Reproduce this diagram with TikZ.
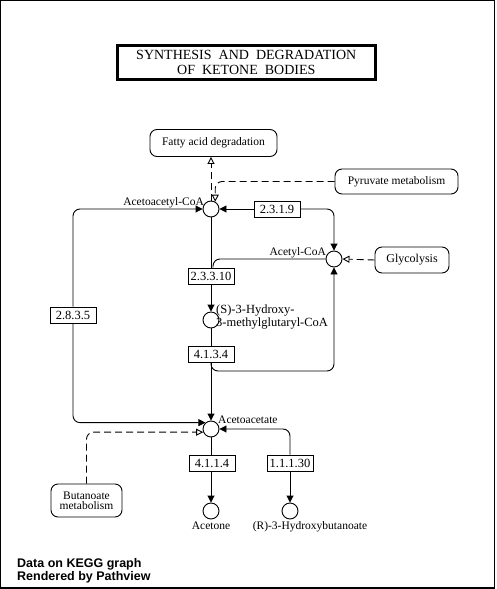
\documentclass[tikz,border=0pt]{standalone}
\usepackage{fontspec}
\setmainfont{Liberation Serif}
\newfontfamily\keggsans{Liberation Sans}
\usetikzlibrary{arrows.meta}
\begin{document}
\begin{tikzpicture}[x=1pt,y=-1pt,
  every node/.style={font=\fontsize{11.5}{10}\selectfont, inner sep=0pt},
  cpd/.style={circle, draw, minimum size=16pt, line width=0.9pt},
  enz/.style={rectangle, draw, minimum width=46pt, minimum height=16pt, line width=0.9pt,
              font=\fontsize{12.5}{12}\selectfont},
  mapbox/.style={rectangle, draw, rounded corners=7pt, line width=0.9pt, align=center},
  lbl/.style={align=left},
  conn/.style={line width=0.9pt, rounded corners=7pt},
  fwd/.style={conn, -{Triangle[length=7pt,width=7pt]}},
  rel/.style={line width=0.9pt, dash pattern=on 7pt off 4pt, rounded corners=7pt, -{Triangle[open,length=7pt,width=7pt]}}
]
\useasboundingbox (0,0) rectangle (496,589);
\draw[line width=1.3pt] (0.65,0.65) rectangle (494.6,587.9);

% title
\node[draw, line width=2.7pt, minimum width=258pt, minimum height=34pt, align=center,
      font=\fontsize{14}{14.5}\selectfont] (title) at (246.3,62.3)
  {SYNTHESIS\ \ AND\ \ DEGRADATION\\OF\ \ KETONE\ \ BODIES};

% map nodes
\node[mapbox, minimum width=127pt, minimum height=27pt] (fad) at (213.5,143) {Fatty acid degradation};
\node[mapbox, minimum width=123pt, minimum height=25pt] (pyr) at (396.5,181.5) {Pyruvate metabolism};
\node[mapbox, minimum width=74pt, minimum height=26pt, font=\fontsize{12}{10}\selectfont] (gly) at (412,260) {Glycolysis};
\node[mapbox, minimum width=71pt, minimum height=33pt] (but) at (86.5,500.5) {Butanoate\\metabolism};

% compounds
\node[cpd] (aacoa) at (211,209) {};
\node[cpd] (acoa) at (334,259) {};
\node[cpd] (hmg) at (211,320) {};
\node[cpd] (aa) at (211,429) {};
\node[cpd] (acetone) at (211,511) {};
\node[cpd] (r3hb) at (290,511) {};

% compound labels
\node[anchor=base east] (laacoa) at (204,205) {Acetoacetyl-CoA};
\node[anchor=base east] (lacoa) at (326,255) {Acetyl-CoA};
\node[anchor=base west, lbl, font=\fontsize{12.5}{9}\selectfont] (lhmg) at (216,326) {(S)-3-Hydroxy-\\3-methylglutaryl-CoA};
\node[anchor=base west] (laa) at (218,423) {Acetoacetate};
\node[anchor=base] (lacetone) at (211,529) {Acetone};
\node[anchor=base] (lr3hb) at (310,529) {(R)-3-Hydroxybutanoate};

% enzymes
\node[enz] (e2319) at (277,209) {2.3.1.9};
\node[enz] (e23310) at (211,276) {2.3.3.10};
\node[enz] (e4134) at (211,354) {4.1.3.4};
\node[enz] (e2835) at (73,315) {2.8.3.5};
\node[enz] (e4114) at (212,463) {4.1.1.4};
\node[enz] (e11130) at (290,463) {1.1.1.30};

% reactions
\draw[fwd] (e2319.west) -- (aacoa.east);
\draw[fwd] (e2319.east) -| (acoa.north);
\draw[conn] (aacoa.south) -- (e23310.north);
\draw[conn] (acoa.west) -| ([xshift=2pt]e23310.north);
\draw[fwd] (e23310.south) -- (hmg.north);
\draw[conn] (hmg.south) -- (e4134.north);
\draw[fwd] (e4134.south) |- (334,371) -- (acoa.south);
\draw[fwd] (e4134.south) -- (aa.north);
\draw[fwd] (e2835.north) |- (aacoa.west);
\draw[fwd] (e2835.south) |- (aa.131);
\draw[conn] (aa.south) -- (aa.south |- e4114.north);
\draw[fwd] (aa.south |- e4114.south) -- (acetone.north);
\draw[fwd] (e11130.north) |- (aa.east);
\draw[fwd] (e11130.south) -- (r3hb.north);

% relations to maps
\draw[rel] (gly.west) -- (acoa.east);
\draw[rel] (aacoa.north) -- (aacoa.north |- fad.south);
\draw[rel] (pyr.west) -| (aacoa.60);
\draw[rel] (but.north) |- (aa.202);

% footer
\node[anchor=base west, align=left, font=\keggsans\bfseries\fontsize{12.5}{13}\selectfont] (foot) at (17,580)
  {Data on KEGG graph\\Rendered by Pathview};
\end{tikzpicture}
\end{document}
